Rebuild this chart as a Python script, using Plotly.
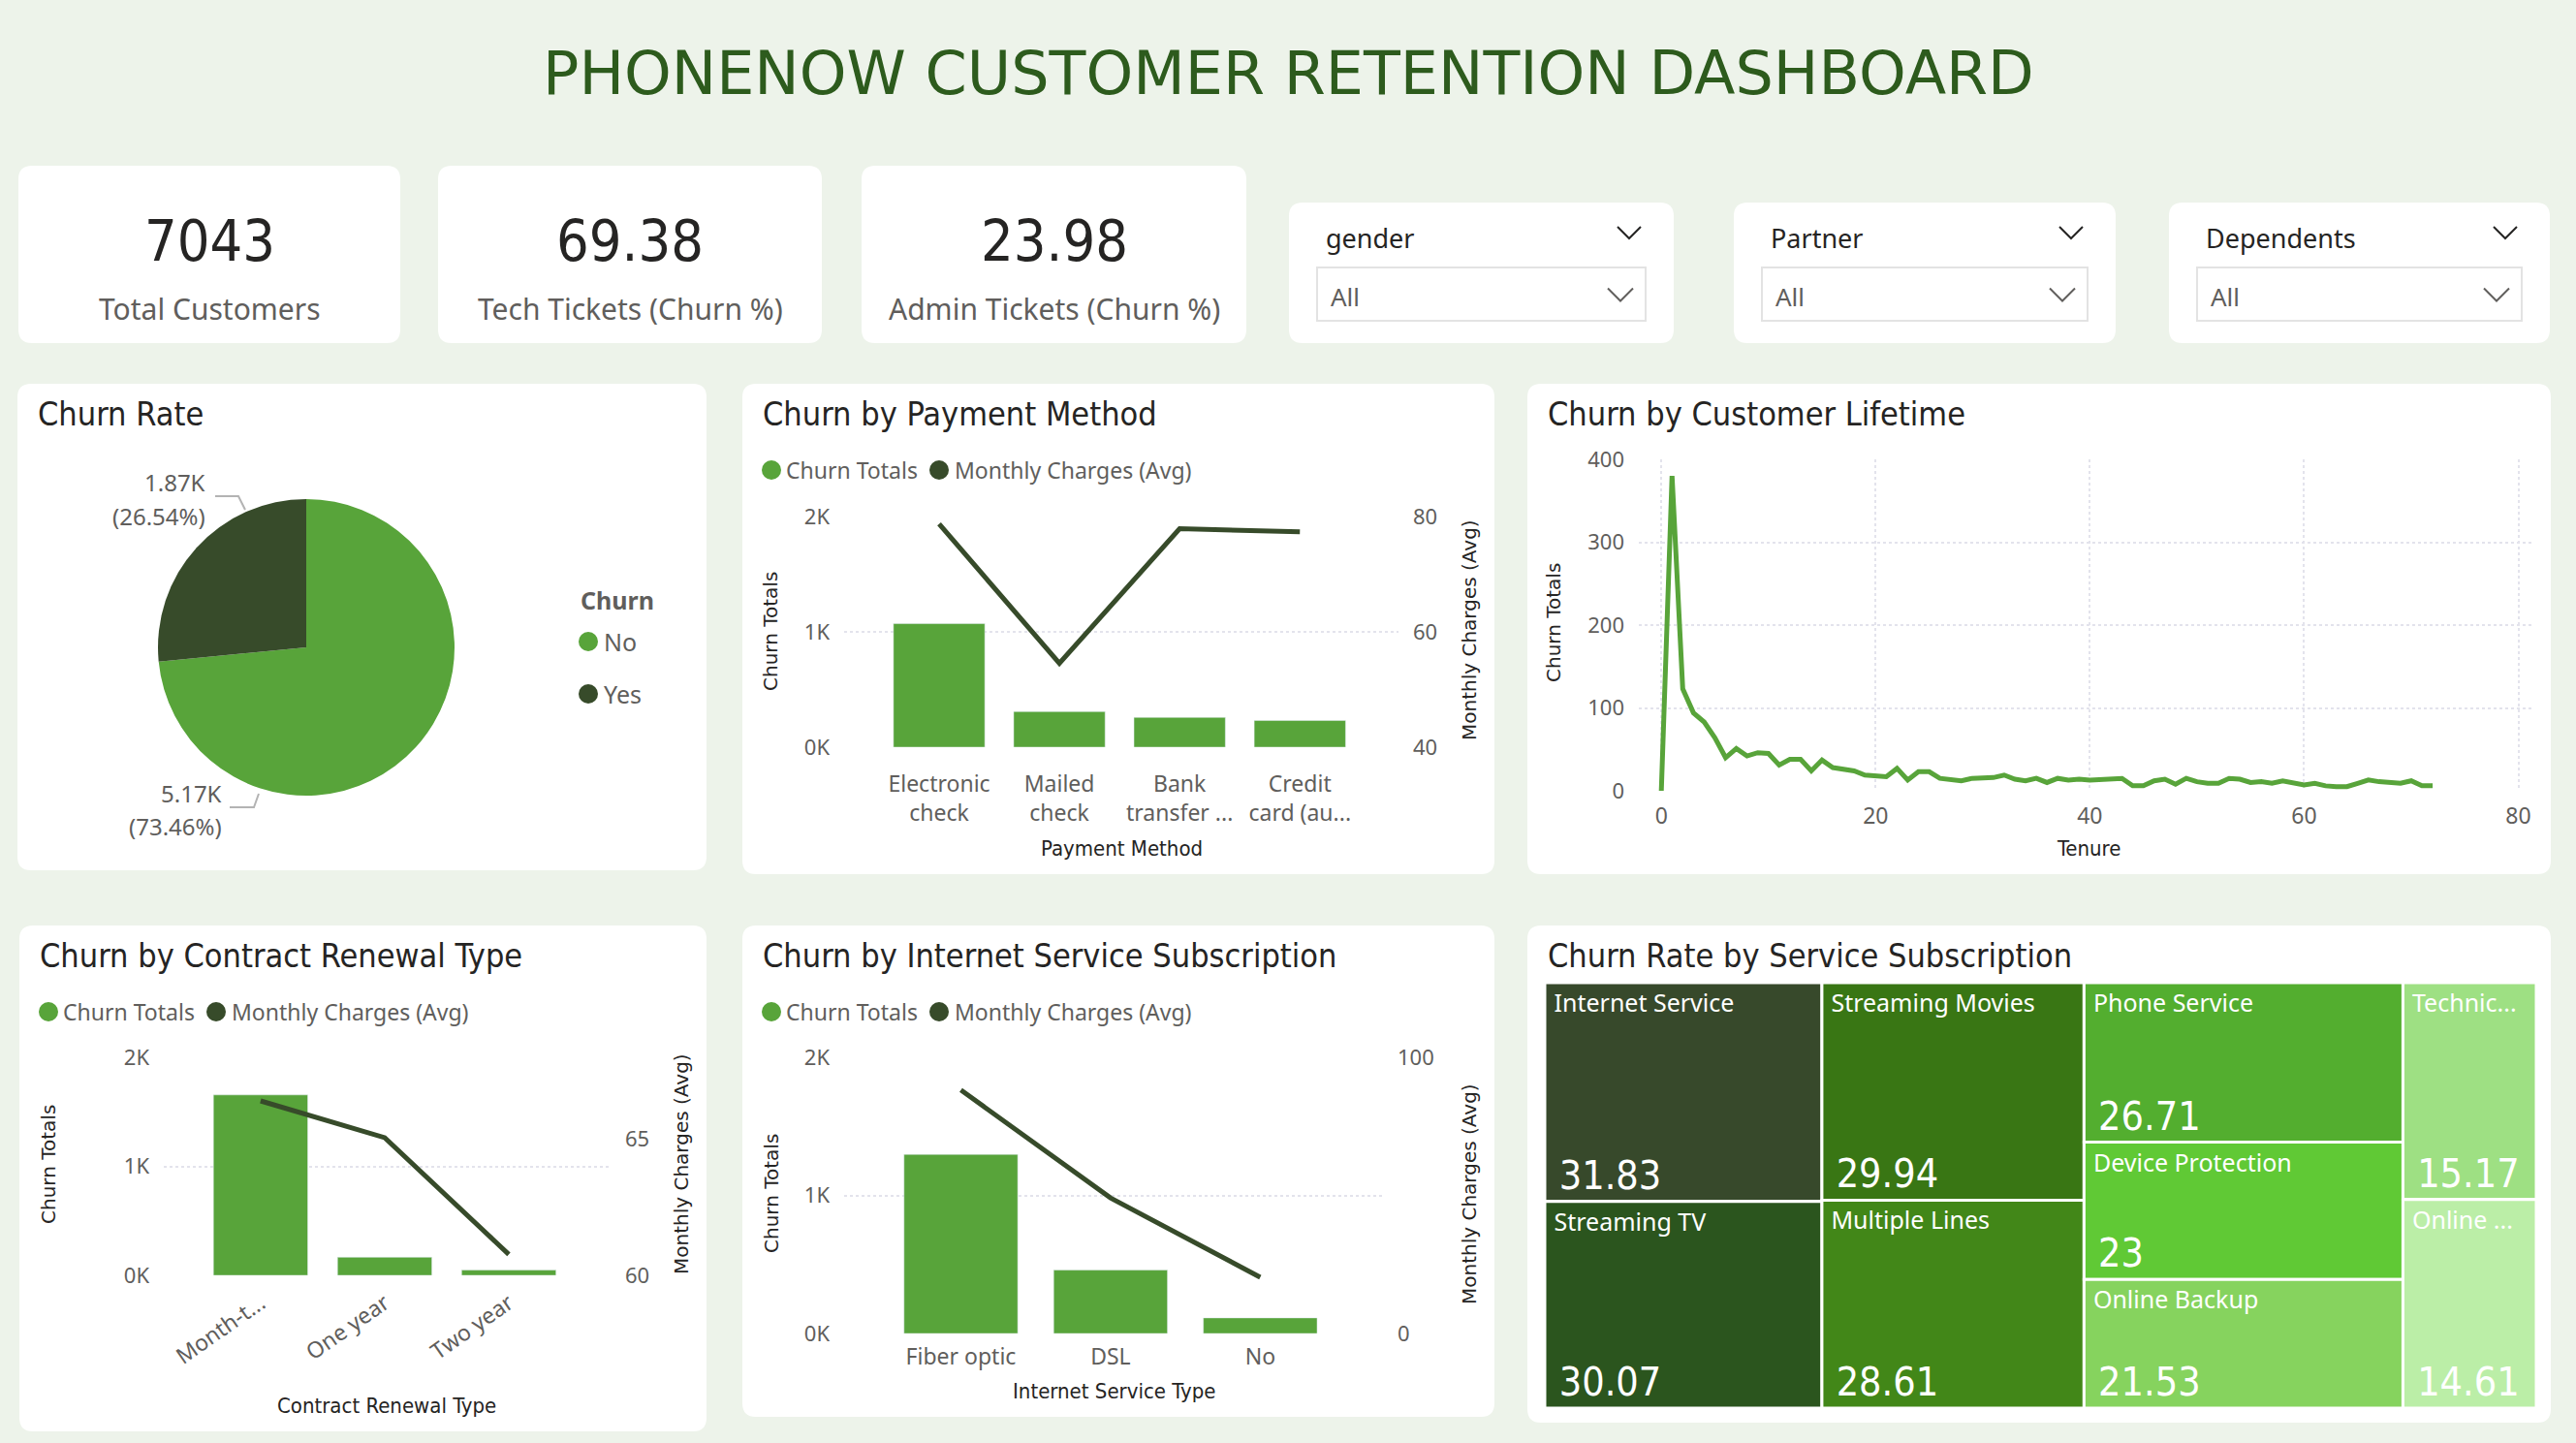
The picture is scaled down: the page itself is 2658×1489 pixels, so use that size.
import plotly.graph_objects as go

W, H = 2658, 1489

# ---------------- data ----------------
kpi_values = ["7043", "69.38", "23.98"]
kpi_labels = ["Total Customers", "Tech Tickets (Churn %)", "Admin Tickets (Churn %)"]
slicer_fields = ["gender", "Partner", "Dependents"]
slicer_values = ["All", "All", "All"]

churn_labels = ["No", "Yes"]
churn_counts = [5174, 1869]

pay_methods = ["Electronic check", "Mailed check", "Bank transfer (automatic)", "Credit card (automatic)"]
pay_ticks = ["Electronic<br>check", "Mailed<br>check", "Bank<br>transfer ...", "Credit<br>card (au..."]
pay_churn = [1071, 308, 258, 232]
pay_charges = [78.70, 54.56, 77.88, 77.36]

tenure = list(range(0, 73))
tenure_churn = [0, 380, 123, 94, 83, 64, 40, 51, 42, 46, 45, 31, 38, 38, 24, 37, 28, 26, 24, 19,
                18, 17, 27, 13, 23, 23, 15, 13, 12, 15, 16, 16, 19, 14, 12, 15, 10, 15, 13, 14,
                13, 14, 14, 15, 6, 6, 12, 14, 8, 15, 11, 9, 9, 15, 14, 10, 11, 9, 12, 9,
                7, 9, 6, 5, 5, 9, 13, 11, 10, 9, 12, 6, 6]

contract_types = ["Month-to-month", "One year", "Two year"]
contract_ticks = ["Month-t...", "One year", "Two year"]
contract_churn = [1655, 166, 48]
contract_charges = [66.40, 65.05, 60.77]

internet_types = ["Fiber optic", "DSL", "No"]
internet_churn = [1297, 459, 113]
internet_charges = [88.13, 49.08, 20.37]

service_labels = ["Internet Service", "Streaming TV", "Streaming Movies", "Multiple Lines",
                  "Phone Service", "Device Protection", "Online Backup", "Technic...", "Online ..."]
service_rates = [31.83, 30.07, 29.94, 28.61, 26.71, 23, 21.53, 15.17, 14.61]

# ---------------- styles / layout config ----------------
service_column = [0, 0, 1, 1, 2, 2, 2, 3, 3]
service_colors = ["#37492B", "#2B551E", "#397614", "#428718", "#53AE2F",
                  "#60C935", "#86D35E", "#9EE083", "#BBEEA7"]

BG = "#EDF3EA"
BAR = "#58A43A"
DARK = "#374B2A"
TITLE_GREEN = "#2D5B1D"
TXT = "#252423"
GRAY = "#605E5C"
GRID = "#E3E3EC"
UI = "Segoe UI, Noto Sans, Open Sans, sans-serif"
DIN = "DejaVu Sans Condensed, DejaVu Sans, sans-serif"
AX = "DejaVu Sans, Verdana, sans-serif"


def X(p):
    return p / W


def Y(p):
    return 1 - p / H


shapes = []
annotations = []


def rrect(x0, y0, x1, y1, r=14, fill="white", line_color=None, lw=0):
    path = (f"M {X(x0 + r)},{Y(y0)} L {X(x1 - r)},{Y(y0)} Q {X(x1)},{Y(y0)} {X(x1)},{Y(y0 + r)} "
            f"L {X(x1)},{Y(y1 - r)} Q {X(x1)},{Y(y1)} {X(x1 - r)},{Y(y1)} "
            f"L {X(x0 + r)},{Y(y1)} Q {X(x0)},{Y(y1)} {X(x0)},{Y(y1 - r)} "
            f"L {X(x0)},{Y(y0 + r)} Q {X(x0)},{Y(y0)} {X(x0 + r)},{Y(y0)} Z")
    shapes.append(dict(type="path", path=path, xref="paper", yref="paper", fillcolor=fill,
                       line=dict(color=line_color or fill, width=lw), layer="below"))


def text(x, y, s, size, color, family, xanchor="left", yanchor="middle", angle=0, align="left"):
    annotations.append(dict(x=X(x), y=Y(y), xref="paper", yref="paper", text=s, showarrow=False,
                            xanchor=xanchor, yanchor=yanchor, textangle=angle, align=align,
                            font=dict(size=size, color=color, family=family)))


def chevron(cx, cy, w, h, color=TXT):
    path = f"M {X(cx - w / 2)},{Y(cy - h / 2)} L {X(cx)},{Y(cy + h / 2)} L {X(cx + w / 2)},{Y(cy - h / 2)}"
    shapes.append(dict(type="path", path=path, xref="paper", yref="paper",
                       line=dict(color=color, width=2)))


def dot(cx, cy, d, color):
    shapes.append(dict(type="circle", xref="paper", yref="paper", x0=X(cx - d / 2), x1=X(cx + d / 2),
                       y0=Y(cy + d / 2), y1=Y(cy - d / 2), fillcolor=color, line=dict(width=0)))


def seg(points, color="#B3B3B3", width=2):
    path = "M " + " L ".join(f"{X(a)},{Y(b)}" for a, b in points)
    shapes.append(dict(type="path", path=path, xref="paper", yref="paper",
                       line=dict(color=color, width=width)))


# ---------------- cards ----------------
kpi_cards = [(19, 171, 413, 354), (452, 171, 848, 354), (889, 171, 1286, 354)]
for (x0, y0, x1, y1), v, lab in zip(kpi_cards, kpi_values, kpi_labels):
    rrect(x0, y0, x1, y1)
    text((x0 + x1) / 2, 248, v, 59, TXT, DIN, xanchor="center")
    text((x0 + x1) / 2, 318, lab, 30, GRAY, UI, xanchor="center")

slicer_cards = [(1330, 209, 1727, 354), (1789, 209, 2183, 354), (2238, 209, 2631, 354)]
for (x0, y0, x1, y1), f, v in zip(slicer_cards, slicer_fields, slicer_values):
    rrect(x0, y0, x1, y1)
    text(x0 + 36, 246, f, 27, TXT, UI)
    chevron(x1 - 46, 240, 24, 12)
    bx0, bx1 = x0 + 29, x1 - 29
    shapes.append(dict(type="rect", xref="paper", yref="paper", x0=X(bx0), x1=X(bx1),
                       y0=Y(331), y1=Y(276), fillcolor="white", line=dict(color="#E3E3E3", width=2)))
    text(bx0 + 12, 306, v, 26, GRAY, UI)
    chevron(bx1 - 26, 304, 26, 13, GRAY)

panel_cards = {
    "pie": (18, 396, 729, 898),
    "pay": (766, 396, 1542, 902),
    "life": (1576, 396, 2632, 902),
    "con": (20, 955, 729, 1477),
    "int": (766, 955, 1542, 1462),
    "tree": (1576, 955, 2632, 1468),
}
titles = {
    "pie": "Churn Rate", "pay": "Churn by Payment Method", "life": "Churn by Customer Lifetime",
    "con": "Churn by Contract Renewal Type", "int": "Churn by Internet Service Subscription",
    "tree": "Churn Rate by Service Subscription",
}
for k, (x0, y0, x1, y1) in panel_cards.items():
    rrect(x0, y0, x1, y1)
    text(x0 + 19, y0 + 31, titles[k], 34, TXT, DIN)

# main title
text(W / 2, 76, "PHONENOW CUSTOMER RETENTION DASHBOARD", 62, TITLE_GREEN, "DejaVu Sans", xanchor="center")

# combo legends
for lx, ly in [(786, 485), (40, 1044), (786, 1044)]:
    dot(lx + 10, ly, 20, BAR)
    text(lx + 23, ly, "Churn Totals", 23, GRAY, UI)
    dot(lx + 183, ly, 20, DARK)
    text(lx + 197, ly, "Monthly Charges (Avg)", 23, GRAY, UI)

# pie legend
text(597, 619, "<b>Churn</b>", 25, GRAY, UI)
dot(607, 662, 20, BAR)
text(621, 662, churn_labels[0], 25, GRAY, UI)
dot(607, 716, 20, DARK)
text(621, 716, churn_labels[1], 25, GRAY, UI)

# pie data labels
total = sum(churn_counts)
lab_no = f"{churn_counts[0] / 1000:.2f}K"
pct_no = f"({churn_counts[0] / total * 100:.2f}%)"
lab_yes = f"{churn_counts[1] / 1000:.2f}K"
pct_yes = f"({churn_counts[1] / total * 100:.2f}%)"
text(214, 497, lab_yes, 24, GRAY, UI, xanchor="right")
text(214, 532, pct_yes, 24, GRAY, UI, xanchor="right")
seg([(222, 512), (246, 512), (253, 526)])
text(231, 818, lab_no, 24, GRAY, UI, xanchor="right")
text(231, 852, pct_no, 24, GRAY, UI, xanchor="right")
seg([(237, 833), (262, 833), (267, 819)])

# axis titles
text(795, 652, "Churn Totals", 20, TXT, AX, xanchor="center", angle=-90)
text(1516, 650, "Monthly Charges (Avg)", 20, TXT, AX, xanchor="center", angle=-90)
text(1157, 875, "Payment Method", 22, TXT, DIN, xanchor="center")
text(1603, 643, "Churn Totals", 20, TXT, AX, xanchor="center", angle=-90)
text(2155, 875, "Tenure", 22, TXT, DIN, xanchor="center")
text(50, 1202, "Churn Totals", 20, TXT, AX, xanchor="center", angle=-90)
text(703, 1201, "Monthly Charges (Avg)", 20, TXT, AX, xanchor="center", angle=-90)
text(399, 1450, "Contract Renewal Type", 22, TXT, DIN, xanchor="center")
text(796, 1232, "Churn Totals", 20, TXT, AX, xanchor="center", angle=-90)
text(1516, 1232, "Monthly Charges (Avg)", 20, TXT, AX, xanchor="center", angle=-90)
text(1149, 1435, "Internet Service Type", 22, TXT, DIN, xanchor="center")

# ---------------- traces ----------------
fig = go.Figure()

fig.add_trace(go.Pie(labels=churn_labels, values=churn_counts, sort=False, direction="clockwise",
                     rotation=0, marker=dict(colors=[BAR, DARK], line=dict(width=0)),
                     textinfo="none", showlegend=False, hoverinfo="label+value+percent",
                     domain=dict(x=[X(163), X(469)], y=[Y(821), Y(515)])))

fig.add_trace(go.Bar(x=pay_methods, y=pay_churn, marker_color=BAR, xaxis="x", yaxis="y", showlegend=False))
fig.add_trace(go.Scatter(x=pay_methods, y=pay_charges, mode="lines", line=dict(color=DARK, width=5),
                         xaxis="x", yaxis="y2", showlegend=False))

fig.add_trace(go.Scatter(x=tenure, y=tenure_churn, mode="lines", line=dict(color=BAR, width=5),
                         xaxis="x2", yaxis="y3", showlegend=False))

fig.add_trace(go.Bar(x=contract_types, y=contract_churn, marker_color=BAR, xaxis="x3", yaxis="y4", showlegend=False))
fig.add_trace(go.Scatter(x=contract_types, y=contract_charges, mode="lines", line=dict(color=DARK, width=5),
                         xaxis="x3", yaxis="y5", showlegend=False))

fig.add_trace(go.Bar(x=internet_types, y=internet_churn, marker_color=BAR, xaxis="x4", yaxis="y6", showlegend=False))
fig.add_trace(go.Scatter(x=internet_types, y=internet_charges, mode="lines", line=dict(color=DARK, width=5),
                         xaxis="x4", yaxis="y7", showlegend=False))

# treemap: columns as invisible groups, leaves stacked inside
n_cols = max(service_column) + 1
group_ids = [f"col{i}" for i in range(n_cols)]
ids = group_ids + service_labels
labels = [""] * n_cols + service_labels
parents = [""] * n_cols + [f"col{c}" for c in service_column]
values = [0] * n_cols + service_rates
tm_domain = dict(x=[X(1594), X(2617)], y=[Y(1453), Y(1014)])
fig.add_trace(go.Treemap(ids=ids, labels=labels, parents=parents, values=values, sort=False,
                         branchvalues="remainder",
                         tiling=dict(packing="slice-dice", pad=0),
                         marker=dict(colors=["white"] * n_cols + service_colors,
                                     line=dict(color="white", width=3), pad=dict(t=0, l=0, r=0, b=0)),
                         text=[""] * n_cols + [" " + s for s in service_labels], textinfo="text",
                         textposition="top left",
                         textfont=dict(color="white", size=25, family=UI),
                         pathbar=dict(visible=False), domain=tm_domain, hoverinfo="label+value"))
fig.add_trace(go.Treemap(ids=ids, labels=labels, parents=parents, values=values, sort=False,
                         branchvalues="remainder",
                         tiling=dict(packing="slice-dice", pad=0),
                         marker=dict(colors=["rgba(0,0,0,0)"] * (n_cols + len(service_labels)),
                                     line=dict(width=0), pad=dict(t=0, l=0, r=0, b=0)),
                         text=[""] * n_cols + [" " + f"{v:g}" for v in service_rates], textinfo="text",
                         textposition="bottom left",
                         textfont=dict(color="white", size=41, family=DIN),
                         pathbar=dict(visible=False), domain=tm_domain, hoverinfo="skip"))

# ---------------- axes ----------------
tickf = dict(size=22, color=GRAY, family=UI)
common_y = dict(showline=False, zeroline=False, ticks="", tickfont=tickf, ticklabelstandoff=14,
                automargin=False)
common_x = dict(showline=False, zeroline=False, ticks="", tickfont=dict(size=23, color=GRAY, family=UI),
                showgrid=False, type="category", automargin=False)
grid = dict(showgrid=True, gridcolor=GRID, griddash="dot", gridwidth=1.5)

fig.update_layout(
    xaxis=dict(common_x, domain=[X(871), X(1443)], anchor="y", range=[-0.79, 3.82],
               tickmode="array", tickvals=pay_methods, ticktext=pay_ticks, ticklabelstandoff=22),
    yaxis=dict(common_y, **grid, domain=[Y(771), Y(533)], anchor="x", range=[0, 2000],
               tickvals=[0, 1000, 2000], ticktext=["0K", "1K", "2K"]),
    yaxis2=dict(common_y, overlaying="y", side="right", anchor="x", range=[40, 80],
                tickvals=[40, 60, 80], showgrid=False),
    xaxis2=dict(showline=False, zeroline=False, ticks="", tickfont=dict(size=23, color=GRAY, family=UI),
                domain=[X(1691), X(2614)], anchor="y3", range=[-2.1, 81.4], tickvals=[0, 20, 40, 60, 80],
                ticklabelstandoff=10, automargin=False, **grid),
    yaxis3=dict(common_y, **grid, domain=[Y(816), Y(474)], anchor="x2", range=[0, 400],
                tickvals=[0, 100, 200, 300, 400]),
    xaxis3=dict(common_x, domain=[X(169), X(630)], anchor="y4", range=[-0.78, 2.82],
                tickmode="array", tickvals=contract_types, ticktext=contract_ticks, tickangle=-35,
                ticklabelstandoff=10),
    yaxis4=dict(common_y, **grid, domain=[Y(1316), Y(1091)], anchor="x3", range=[0, 2000],
                tickvals=[0, 1000, 2000], ticktext=["0K", "1K", "2K"]),
    yaxis5=dict(common_y, overlaying="y4", side="right", anchor="x3", range=[60, 68],
                tickvals=[60, 65], showgrid=False),
    xaxis4=dict(common_x, domain=[X(871), X(1427)], anchor="y6", range=[-0.78, 2.82], ticklabelstandoff=8),
    yaxis6=dict(common_y, **grid, domain=[Y(1376), Y(1091)], anchor="x4", range=[0, 2000],
                tickvals=[0, 1000, 2000], ticktext=["0K", "1K", "2K"]),
    yaxis7=dict(common_y, overlaying="y6", side="right", anchor="x4", range=[0, 100],
                tickvals=[0, 100], showgrid=False),
)

fig.update_layout(
    width=W, height=H, margin=dict(l=0, r=0, t=0, b=0, pad=0, autoexpand=False),
    paper_bgcolor=BG, plot_bgcolor="rgba(0,0,0,0)",
    bargap=0.24, showlegend=False,
    shapes=shapes, annotations=annotations,
    font=dict(family=UI, color=GRAY),
)

fig.write_html("out.html")
